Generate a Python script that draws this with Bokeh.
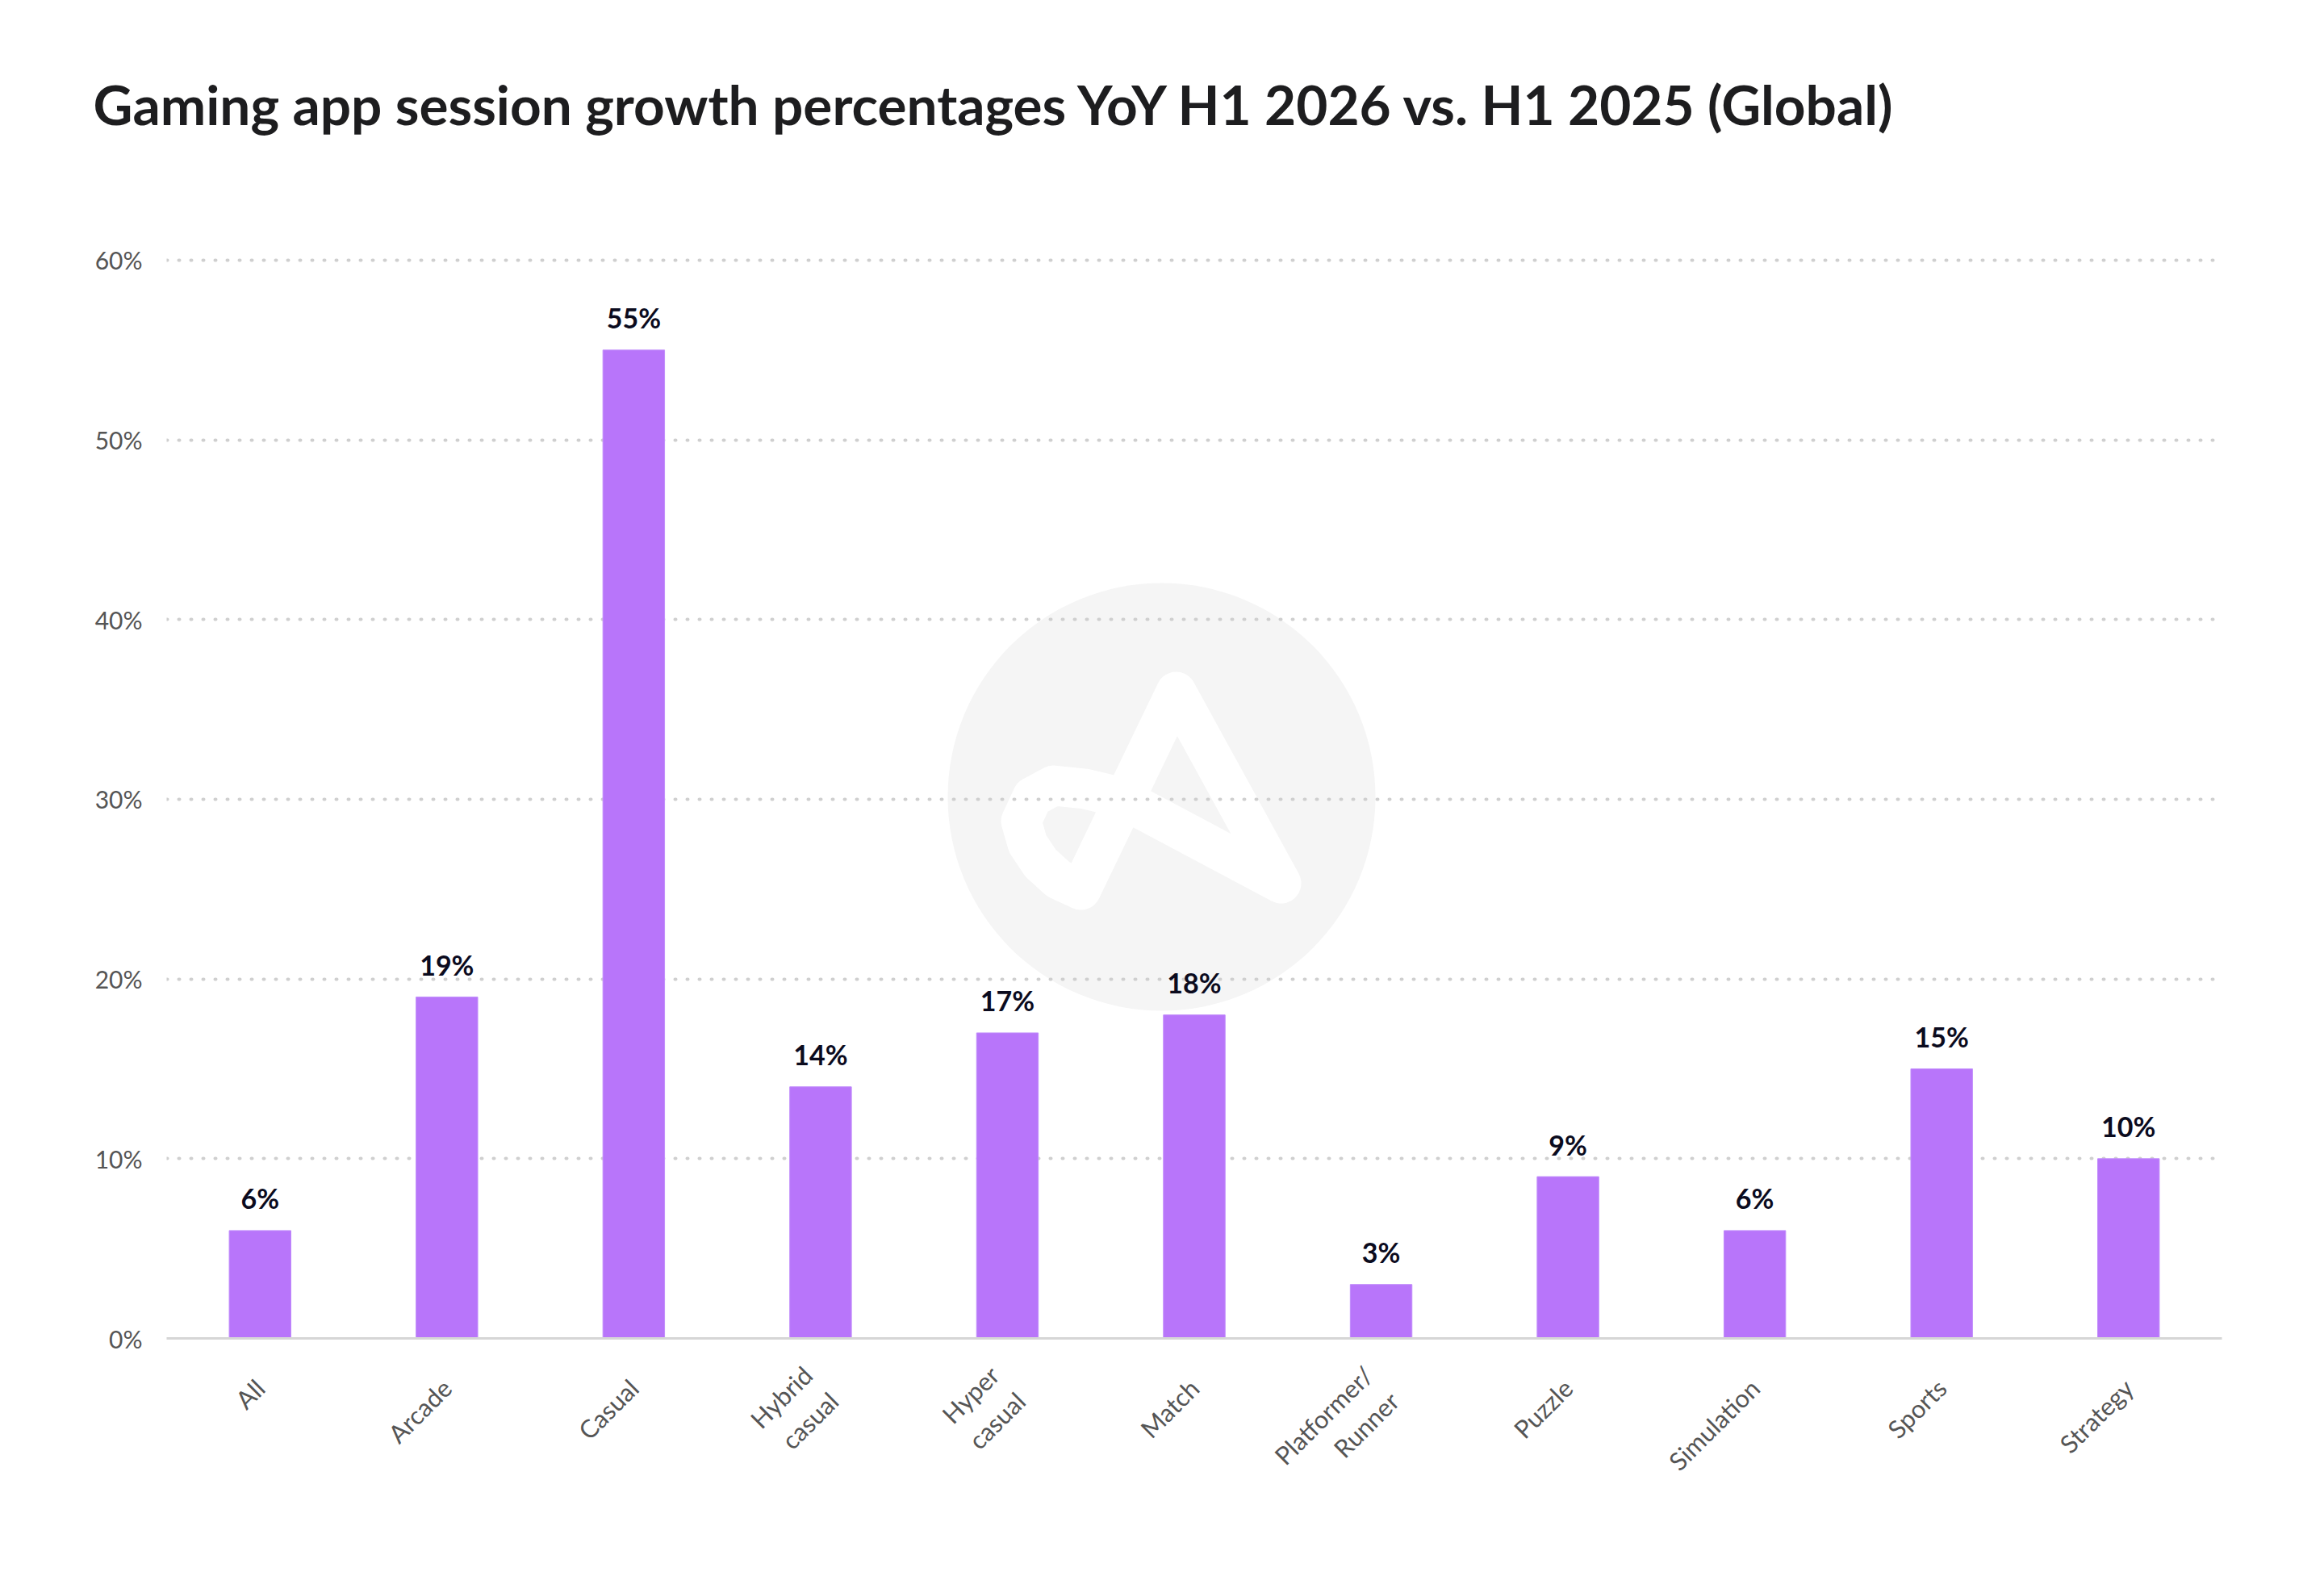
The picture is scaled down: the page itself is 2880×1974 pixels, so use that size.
import math
from bokeh.plotting import figure
from bokeh.models import Range1d, FixedTicker, Title, ColumnDataSource
from bokeh.embed import file_html
from bokeh.resources import INLINE
from bokeh.core.properties import value

# ---------------- data ----------------
TITLE = "Gaming app session growth percentages YoY H1 2026 vs. H1 2025 (Global)"
categories = ["All", "Arcade", "Casual", "Hybrid\ncasual", "Hyper\ncasual", "Match",
              "Platformer/\nRunner", "Puzzle", "Simulation", "Sports", "Strategy"]
growth = [6, 19, 55, 14, 17, 18, 3, 9, 6, 15, 10]
y_ticks = [0, 10, 20, 30, 40, 50, 60]
y_tick_labels = ["0%", "10%", "20%", "30%", "40%", "50%", "60%"]

# ---------------- styling ----------------
W, H = 2864, 1958
ML, MR, MT, MB = 206, 111, 244, 300
Y_TOP = 63.5
BAR_COLOR = "#b875fa"
FONT = "Lato"

n = len(categories)
xs = [i + 0.5 for i in range(n)]
value_labels = [f"{v}%" for v in growth]

p = figure(width=W, height=H, output_backend="svg", toolbar_location=None,
           x_range=Range1d(0, n), y_range=Range1d(y_ticks[0], Y_TOP),
           min_border_left=ML, min_border_right=MR, min_border_top=MT, min_border_bottom=MB,
           background_fill_color="white", border_fill_color="white")
p.outline_line_color = None

p.title = Title(text=TITLE, align="left", text_font=FONT, text_font_style="bold",
                text_font_size="67.5px", text_color="#1d1d1f", offset=-91, standoff=152)

# ---- watermark (circle + logo stroke), positioned in screen pixels relative to frame
frame_w = W - ML - MR
frame_h = H - MT - MB
ppx = frame_w / n
ppy = frame_h / (Y_TOP - y_ticks[0])
cx = (1439 - ML) / ppx
cy = (H - MB - 987) / ppy
p.scatter(x=[cx], y=[cy], size=530, marker="circle", fill_color="#f5f5f5",
          line_color=None, level="image")
logo_dx = [-100, 18, 148, -53, -95, -134, -160, -174, -166, -150, -128, -100]
logo_dy = [115, -130, 107, 0, -10, -14, 0, 30, 58, 82, 102, 115]
p.line(x=[cx + d / ppx for d in logo_dx], y=[cy - d / ppy for d in logo_dy],
       line_color="white", line_width=50, line_join="round", line_cap="round",
       level="image")

# ---- bars
src = ColumnDataSource(dict(x=xs, top=growth, label=value_labels))
p.vbar(x="x", top="top", bottom=0, width=0.33, source=src,
       fill_color=BAR_COLOR, line_color="#c08cfb", line_width=1)
p.text(x="x", y="top", text="label", source=src, text_align="center",
       text_baseline="alphabetic", y_offset=-40, text_font=value(FONT),
       text_font_style="bold", text_font_size="34px", text_color="#0b0b1e")

# ---- axes
p.xaxis.ticker = FixedTicker(ticks=xs)
p.xaxis.major_label_overrides = {x: c for x, c in zip(xs, categories)}
p.xaxis.major_label_orientation = math.pi / 4
p.xaxis.major_label_standoff = 50
p.xaxis.major_tick_line_color = None
p.xaxis.minor_tick_line_color = None
p.xaxis.axis_line_color = "#d6d6d6"
p.xaxis.axis_line_width = 3
p.xaxis.major_label_text_font = FONT
p.xaxis.major_label_text_font_size = "31px"
p.xaxis.major_label_text_color = "#555555"

p.yaxis.ticker = FixedTicker(ticks=y_ticks)
p.yaxis.major_label_overrides = {t: l for t, l in zip(y_ticks, y_tick_labels)}
p.yaxis.axis_line_color = None
p.yaxis.major_tick_line_color = None
p.yaxis.minor_tick_line_color = None
p.yaxis.major_label_standoff = 24
p.yaxis.major_label_text_font = FONT
p.yaxis.major_label_text_font_size = "30px"
p.yaxis.major_label_text_color = "#555555"

p.xgrid.grid_line_color = None
p.ygrid.ticker = FixedTicker(ticks=y_ticks[1:])
p.ygrid.grid_line_color = "#cfcfcf"
p.ygrid.grid_line_width = 4
p.ygrid.grid_line_dash = "1 14"
p.ygrid.grid_line_cap = "round"

open("out.html", "w").write(file_html(p, INLINE))
